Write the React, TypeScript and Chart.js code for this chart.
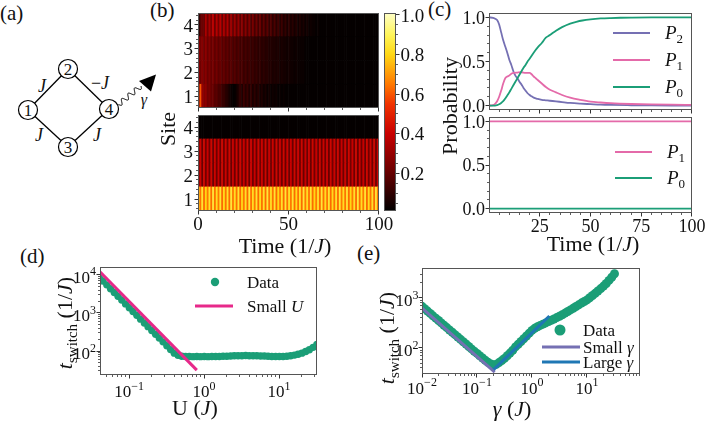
import React, { useEffect, useRef } from 'react';
import { Chart, registerables } from 'chart.js';

Chart.register(...registerables);

const W = 706;
const H = 422;
const SERIF = '"Liberation Serif", "DejaVu Serif", serif';
const FRAME = '#555555';
const INK = '#111111';
const GREEN = '#1b9e77';
const PURPLE = '#7570b3';
const PINK = '#e7298a';
const PINK_C = '#e46aa9';
const BLUE = '#1f77b4';

// ---------------- (b) heatmaps: site densities vs time ----------------
const HEAT_T = [
  0.5, 1.5, 2.5, 3.5, 4.5, 5.5, 6.5, 7.5, 8.5, 9.5,
  10.5, 11.5, 12.5, 13.5, 14.5, 15.5, 16.5, 17.5, 18.5, 19.5,
  20.5, 21.5, 22.5, 23.5, 24.5, 25.5, 26.5, 27.5, 28.5, 29.5,
  30.5, 31.5, 32.5, 33.5, 34.5, 35.5, 36.5, 37.5, 38.5, 39.5,
  40.5, 41.5, 42.5, 43.5, 44.5, 45.5, 46.5, 47.5, 48.5, 49.5,
  50.5, 51.5, 52.5, 53.5, 54.5, 55.5, 56.5, 57.5, 58.5, 59.5,
  60.5, 61.5, 62.5, 63.5, 64.5, 65.5, 66.5, 67.5, 68.5, 69.5,
  70.5, 71.5, 72.5, 73.5, 74.5, 75.5, 76.5, 77.5, 78.5, 79.5,
  80.5, 81.5, 82.5, 83.5, 84.5, 85.5, 86.5, 87.5, 88.5, 89.5,
  90.5, 91.5, 92.5, 93.5, 94.5, 95.5, 96.5, 97.5, 98.5, 99.5,
];

const TOP_SITE1 = [
  0.24, 0.6, 0.3, 0.26, 0.28, 0.22, 0.24, 0.2, 0.21, 0.17,
  0.18, 0.14, 0.15, 0.11, 0.11, 0.08, 0.07, 0.04, 0.02, 0.01,
  0.01, 0.03, 0.06, 0.1, 0.06, 0.12, 0.07, 0.11, 0.06, 0.1,
  0.05, 0.09, 0.05, 0.08, 0.04, 0.06, 0.03, 0.05, 0.02, 0.04,
  0.02, 0.03, 0.02, 0.03, 0.01, 0.02, 0.01, 0.02, 0.01, 0.01,
  0.01, 0.01, 0.01, 0.01, 0.01, 0.01, 0.01, 0.01, 0.01, 0.01,
  0.01, 0.01, 0.01, 0.01, 0.01, 0.01, 0.01, 0.01, 0.01, 0.01,
  0.01, 0.01, 0.01, 0.01, 0.01, 0.01, 0.01, 0.01, 0.01, 0.01,
  0.01, 0.01, 0.01, 0.01, 0.01, 0.01, 0.01, 0.01, 0.01, 0.01,
  0.01, 0.01, 0.01, 0.01, 0.01, 0.01, 0.01, 0.01, 0.01, 0.01,
];
const TOP_SITE2 = [
  0.3, 0.22, 0.27, 0.23, 0.27, 0.21, 0.25, 0.2, 0.24, 0.19,
  0.23, 0.18, 0.21, 0.17, 0.2, 0.16, 0.19, 0.15, 0.18, 0.14,
  0.17, 0.13, 0.16, 0.12, 0.15, 0.11, 0.14, 0.1, 0.13, 0.1,
  0.12, 0.09, 0.11, 0.08, 0.1, 0.07, 0.09, 0.07, 0.08, 0.06,
  0.07, 0.05, 0.06, 0.05, 0.06, 0.04, 0.05, 0.04, 0.04, 0.03,
  0.04, 0.03, 0.03, 0.02, 0.03, 0.02, 0.02, 0.02, 0.02, 0.01,
  0.01, 0.01, 0.01, 0.01, 0.01, 0.01, 0.01, 0.01, 0.01, 0.01,
  0.01, 0.01, 0.01, 0.01, 0.01, 0.01, 0.01, 0.01, 0.01, 0.01,
  0.01, 0.01, 0.01, 0.01, 0.01, 0.01, 0.01, 0.01, 0.01, 0.01,
  0.01, 0.01, 0.01, 0.01, 0.01, 0.01, 0.01, 0.01, 0.01, 0.01,
];
const TOP_SITE3 = [
  0.3, 0.23, 0.27, 0.22, 0.28, 0.21, 0.26, 0.2, 0.24, 0.19,
  0.23, 0.18, 0.22, 0.17, 0.2, 0.16, 0.19, 0.15, 0.18, 0.14,
  0.17, 0.13, 0.16, 0.12, 0.15, 0.11, 0.14, 0.11, 0.13, 0.1,
  0.12, 0.09, 0.11, 0.08, 0.1, 0.08, 0.09, 0.07, 0.08, 0.06,
  0.07, 0.06, 0.06, 0.05, 0.06, 0.04, 0.05, 0.04, 0.04, 0.03,
  0.04, 0.03, 0.03, 0.02, 0.03, 0.02, 0.02, 0.02, 0.02, 0.01,
  0.01, 0.01, 0.01, 0.01, 0.01, 0.01, 0.01, 0.01, 0.01, 0.01,
  0.01, 0.01, 0.01, 0.01, 0.01, 0.01, 0.01, 0.01, 0.01, 0.01,
  0.01, 0.01, 0.01, 0.01, 0.01, 0.01, 0.01, 0.01, 0.01, 0.01,
  0.01, 0.01, 0.01, 0.01, 0.01, 0.01, 0.01, 0.01, 0.01, 0.01,
];
const TOP_SITE4 = [
  0.02, 0.18, 0.22, 0.2, 0.34, 0.22, 0.33, 0.24, 0.38, 0.22,
  0.36, 0.23, 0.37, 0.21, 0.34, 0.22, 0.35, 0.2, 0.32, 0.2,
  0.31, 0.19, 0.3, 0.18, 0.28, 0.17, 0.27, 0.16, 0.26, 0.15,
  0.24, 0.14, 0.22, 0.13, 0.21, 0.12, 0.19, 0.11, 0.18, 0.1,
  0.16, 0.09, 0.15, 0.08, 0.13, 0.07, 0.12, 0.06, 0.1, 0.05,
  0.09, 0.05, 0.08, 0.04, 0.07, 0.03, 0.06, 0.03, 0.05, 0.02,
  0.04, 0.02, 0.03, 0.02, 0.02, 0.01, 0.02, 0.01, 0.01, 0.01,
  0.01, 0.01, 0.01, 0.01, 0.01, 0.01, 0.01, 0.01, 0.01, 0.01,
  0.01, 0.01, 0.01, 0.01, 0.01, 0.01, 0.01, 0.01, 0.01, 0.01,
  0.01, 0.01, 0.01, 0.01, 0.01, 0.01, 0.01, 0.01, 0.01, 0.01,
];

const BOT_SITE1 = [
  0.82, 0.64, 0.84, 0.63, 0.8, 0.65, 0.83, 0.63, 0.85, 0.64,
  0.82, 0.65, 0.84, 0.63, 0.81, 0.64, 0.83, 0.63, 0.85, 0.65,
  0.82, 0.64, 0.84, 0.63, 0.8, 0.65, 0.83, 0.63, 0.85, 0.64,
  0.82, 0.65, 0.84, 0.63, 0.81, 0.64, 0.83, 0.63, 0.85, 0.65,
  0.82, 0.64, 0.84, 0.63, 0.8, 0.65, 0.83, 0.63, 0.85, 0.64,
  0.82, 0.65, 0.84, 0.63, 0.81, 0.64, 0.83, 0.63, 0.85, 0.65,
  0.82, 0.64, 0.84, 0.63, 0.8, 0.65, 0.83, 0.63, 0.85, 0.64,
  0.82, 0.65, 0.84, 0.63, 0.81, 0.64, 0.83, 0.63, 0.85, 0.65,
  0.82, 0.64, 0.84, 0.63, 0.8, 0.65, 0.83, 0.63, 0.85, 0.64,
  0.82, 0.65, 0.84, 0.63, 0.81, 0.64, 0.83, 0.63, 0.85, 0.65,
];
const BOT_SITE23 = [
  0.22, 0.41, 0.21, 0.42, 0.23, 0.4, 0.22, 0.42, 0.21, 0.41,
  0.22, 0.4, 0.21, 0.42, 0.23, 0.41, 0.22, 0.42, 0.21, 0.4,
  0.22, 0.41, 0.21, 0.42, 0.23, 0.4, 0.22, 0.42, 0.21, 0.41,
  0.22, 0.4, 0.21, 0.42, 0.23, 0.41, 0.22, 0.42, 0.21, 0.4,
  0.22, 0.41, 0.21, 0.42, 0.23, 0.4, 0.22, 0.42, 0.21, 0.41,
  0.22, 0.4, 0.21, 0.42, 0.23, 0.41, 0.22, 0.42, 0.21, 0.4,
  0.22, 0.41, 0.21, 0.42, 0.23, 0.4, 0.22, 0.42, 0.21, 0.41,
  0.22, 0.4, 0.21, 0.42, 0.23, 0.41, 0.22, 0.42, 0.21, 0.4,
  0.22, 0.41, 0.21, 0.42, 0.23, 0.4, 0.22, 0.42, 0.21, 0.41,
  0.22, 0.4, 0.21, 0.42, 0.23, 0.41, 0.22, 0.42, 0.21, 0.4,
];
const BOT_SITE4 = [
  0.01, 0.01, 0.01, 0.01, 0.01, 0.01, 0.01, 0.01, 0.01, 0.01,
  0.01, 0.01, 0.01, 0.01, 0.01, 0.01, 0.01, 0.01, 0.01, 0.01,
  0.01, 0.01, 0.01, 0.01, 0.01, 0.01, 0.01, 0.01, 0.01, 0.01,
  0.01, 0.01, 0.01, 0.01, 0.01, 0.01, 0.01, 0.01, 0.01, 0.01,
  0.01, 0.01, 0.01, 0.01, 0.01, 0.01, 0.01, 0.01, 0.01, 0.01,
  0.01, 0.01, 0.01, 0.01, 0.01, 0.01, 0.01, 0.01, 0.01, 0.01,
  0.01, 0.01, 0.01, 0.01, 0.01, 0.01, 0.01, 0.01, 0.01, 0.01,
  0.01, 0.01, 0.01, 0.01, 0.01, 0.01, 0.01, 0.01, 0.01, 0.01,
  0.01, 0.01, 0.01, 0.01, 0.01, 0.01, 0.01, 0.01, 0.01, 0.01,
  0.01, 0.01, 0.01, 0.01, 0.01, 0.01, 0.01, 0.01, 0.01, 0.01,
];

const B_X_TICKS = [0, 50, 100];
const B_X_LABELS = ['0', '50', '100'];
const SITE_TICKS = [1, 2, 3, 4];
const SITE_LABELS = ['1', '2', '3', '4'];
const CB_RANGE = [0.01, 1.01];
const CB_TICKS = [0.2, 0.4, 0.6, 0.8, 1.0];
const CB_LABELS = ['0.2', '0.4', '0.6', '0.8', '1.0'];

// colour map stops: value, r, g, b
const CMAP = [
  [0.0, 0, 0, 0],
  [0.2, 100, 0, 0],
  [0.4, 200, 0, 0],
  [0.55, 240, 50, 0],
  [0.65, 255, 120, 0],
  [0.8, 255, 215, 20],
  [0.9, 255, 245, 90],
  [1.01, 255, 255, 200],
];

// ---------------- (c) probabilities ----------------
const P2_T = [0, 2, 4, 5, 6, 7, 8, 9, 10, 11, 12, 13, 14, 15, 16, 17, 18, 19, 20, 21, 22, 24, 26, 28, 30, 33, 36, 40, 45, 50, 55, 60, 70, 80, 90, 100];
const P2_V = [1.0, 0.995, 0.97, 0.92, 0.83, 0.74, 0.67, 0.6, 0.52, 0.46, 0.39, 0.34, 0.31, 0.27, 0.24, 0.2, 0.17, 0.14, 0.12, 0.105, 0.09, 0.075, 0.065, 0.06, 0.055, 0.048, 0.04, 0.03, 0.022, 0.016, 0.01, 0.007, 0.004, 0.002, 0.001, 0.001];
const P1_T = [0, 2, 3, 4, 5, 6, 7, 8, 9, 10, 11, 12, 14, 16, 18, 20, 21, 22, 23, 24, 26, 28, 30, 33, 36, 40, 45, 50, 55, 60, 70, 80, 90, 100];
const P1_V = [0, 0.005, 0.02, 0.05, 0.1, 0.17, 0.25, 0.31, 0.33, 0.34, 0.36, 0.37, 0.375, 0.378, 0.37, 0.37, 0.355, 0.33, 0.31, 0.29, 0.25, 0.21, 0.18, 0.15, 0.12, 0.09, 0.065, 0.045, 0.035, 0.027, 0.018, 0.013, 0.01, 0.008];
const P0_T = [0, 3, 4, 5, 6, 7, 8, 9, 10, 11, 12, 13, 14, 15, 16, 17, 18, 19, 20, 22, 24, 26, 28, 30, 33, 36, 40, 43, 46, 50, 55, 60, 65, 70, 80, 90, 100];
const P0_V = [0, 0, 0.005, 0.015, 0.03, 0.05, 0.08, 0.115, 0.15, 0.19, 0.23, 0.27, 0.31, 0.35, 0.39, 0.43, 0.46, 0.5, 0.53, 0.6, 0.66, 0.71, 0.77, 0.8, 0.85, 0.89, 0.93, 0.95, 0.965, 0.978, 0.988, 0.993, 0.996, 0.998, 1.0, 1.0, 1.0];
const C2_T = [0, 100];
const C2_P1 = [1, 1];
const C2_P0 = [0, 0];
const C_X_TICKS = [25, 50, 75, 100];
const C_X_LABELS = ['25', '50', '75', '100'];
const C_Y_TICKS = [0, 0.5, 1];
const C_Y_LABELS = ['0.0', '0.5', '1.0'];

// ---------------- (d) t_switch vs U ----------------
const D_U = [0.04, 0.045, 0.0505, 0.0567, 0.0636, 0.0713, 0.08, 0.0898, 0.1008, 0.113, 0.127, 0.1425, 0.16, 0.179, 0.201, 0.226, 0.253, 0.284, 0.319, 0.358, 0.401, 0.45, 0.505, 0.567, 0.636, 0.713, 0.8, 0.898, 1.008, 1.13, 1.27, 1.425, 1.6, 1.79, 2.01, 2.26, 2.53, 2.84, 3.19, 3.58, 4.01, 4.5, 5.05, 5.67, 6.36, 7.13, 8.0, 8.98, 10.08, 11.3, 12.7, 14.25, 16.0, 17.9, 20.1, 22.6, 25.3, 28.4, 31.9];
const D_T = [8750, 6914, 5490, 4355, 3461, 2754, 2188, 1736, 1378, 1096, 868, 689, 547, 437, 347, 274, 219, 174, 138, 109, 88, 77, 73, 72, 72, 71, 72, 71, 72, 71, 72, 72, 72, 73, 73, 74, 75, 75, 75, 76, 75, 75, 75, 74, 74, 73, 72, 72, 72, 72, 73, 75, 78, 82, 88, 97, 108, 125, 148];
const D_SMALL_U = [0.04, 0.8];
const D_SMALL_T = [12600, 31.5];
const D_X_TICKS = [0.1, 1, 10];
const D_X_LABELS = ['10^{−1}', '10^{0}', '10^{1}'];
const D_Y_TICKS = [100, 1000, 10000];
const D_Y_LABELS = ['10^{2}', '10^{3}', '10^{4}'];

// ---------------- (e) t_switch vs gamma ----------------
const E_G = [0.01, 0.0112, 0.0126, 0.0141, 0.0158, 0.0178, 0.02, 0.0224, 0.0251, 0.0282, 0.0316, 0.0355, 0.0398, 0.0447, 0.0501, 0.0562, 0.0631, 0.0708, 0.0794, 0.0891,
  0.1, 0.112, 0.126, 0.141, 0.158, 0.178, 0.2, 0.224, 0.251, 0.282, 0.316, 0.355, 0.398, 0.447, 0.501, 0.562, 0.631, 0.708, 0.794, 0.891,
  1.0, 1.12, 1.26, 1.41, 1.58, 1.78, 2.0, 2.24, 2.51, 2.82, 3.16, 3.55, 3.98, 4.47, 5.01, 5.62, 6.31, 7.08, 7.94, 8.91,
  10, 11.2, 12.6, 14.1, 15.8, 17.8, 20, 22.4, 25.1, 28.2, 31.6];
const E_T = [680, 610, 547, 491, 440, 395, 354, 318, 285, 256, 229, 206, 185, 166, 149, 133, 120, 107, 96, 86,
  78, 70, 63, 57, 52, 48, 46, 47, 51, 56, 62, 70, 79, 90, 105, 119, 135, 153, 174, 198,
  225, 247, 266, 283, 300, 318, 337, 357, 380, 405, 432, 462, 497, 536, 578, 625, 675, 730, 790, 850,
  915, 1010, 1120, 1240, 1380, 1540, 1730, 1950, 2250, 2600, 3050];
const E_SMALL_G = [0.01, 0.21];
const E_SMALL_T = [630, 33];
const E_LARGE_G = [0.2, 2.07];
const E_LARGE_T = [37, 437];
const E_X_TICKS = [0.01, 0.1, 1, 10];
const E_X_LABELS = ['10^{−2}', '10^{−1}', '10^{0}', '10^{1}'];
const E_Y_TICKS = [100, 1000];
const E_Y_LABELS = ['10^{2}', '10^{3}'];

// ---------------- layout ----------------
type Box = [number, number, number, number];
const BOX_B1: Box = [198, 13, 379, 108];
const BOX_B2: Box = [198, 115, 379, 211];
const BOX_CB: Box = [384, 13, 396, 211];
const BOX_C1: Box = [489, 13, 692, 110];
const BOX_C2: Box = [489, 117, 692, 213];
const BOX_D: Box = [100, 267, 317, 375];
const BOX_E: Box = [422, 268, 640, 374];

// ---------------- helpers ----------------
function cmap(v: number): string {
  if (v <= CMAP[0][0]) return `rgb(${CMAP[0][1]},${CMAP[0][2]},${CMAP[0][3]})`;
  for (let i = 1; i < CMAP.length; i++) {
    if (v <= CMAP[i][0]) {
      const a = CMAP[i - 1];
      const b = CMAP[i];
      const f = (v - a[0]) / (b[0] - a[0]);
      const c = [1, 2, 3].map((k) => Math.round(a[k] + (b[k] - a[k]) * f));
      return `rgb(${c[0]},${c[1]},${c[2]})`;
    }
  }
  const l = CMAP[CMAP.length - 1];
  return `rgb(${l[1]},${l[2]},${l[3]})`;
}

function steps(a: number, b: number, s: number): number[] {
  const out: number[] = [];
  for (let k = 0; a + k * s <= b + 1e-9; k++) out.push(+(a + k * s).toFixed(6));
  return out;
}

function logMinor(min: number, max: number): number[] {
  const out: number[] = [];
  for (let d = Math.floor(Math.log10(min)); d <= Math.ceil(Math.log10(max)); d++) {
    for (let m = 2; m <= 9; m++) {
      const v = m * Math.pow(10, d);
      if (v >= min && v <= max) out.push(v);
    }
  }
  return out;
}

type Part = { t: string; it: boolean; sub: boolean; sup: boolean };
function richParts(s: string): Part[] {
  const parts: Part[] = [];
  let it = false;
  let buf = '';
  let i = 0;
  const flush = () => {
    if (buf) parts.push({ t: buf, it, sub: false, sup: false });
    buf = '';
  };
  while (i < s.length) {
    const c = s[i];
    if (c === '$') {
      flush();
      it = !it;
      i++;
      continue;
    }
    if ((c === '_' || c === '^') && s[i + 1] === '{') {
      flush();
      const end = s.indexOf('}', i);
      parts.push({ t: s.slice(i + 2, end), it, sub: c === '_', sup: c === '^' });
      i = end + 1;
      continue;
    }
    buf += c;
    i++;
  }
  flush();
  return parts;
}

function drawRich(ctx: CanvasRenderingContext2D, s: string, x: number, y: number, size: number, align: string, color = INK) {
  const parts = richParts(s);
  const fonts = parts.map((p) => `${p.it ? 'italic ' : ''}${p.sub || p.sup ? Math.round(size * 0.7) : size}px ${SERIF}`);
  const ws = parts.map((p, k) => {
    ctx.font = fonts[k];
    return ctx.measureText(p.t).width;
  });
  const total = ws.reduce((a, b) => a + b, 0);
  let cx = align === 'left' ? x : align === 'center' ? x - total / 2 : x - total;
  ctx.fillStyle = color;
  ctx.textAlign = 'left';
  ctx.textBaseline = 'alphabetic';
  parts.forEach((p, k) => {
    ctx.font = fonts[k];
    const dy = p.sub ? size * 0.22 : p.sup ? -size * 0.42 : 0;
    ctx.fillText(p.t, cx, y + dy);
    cx += ws[k];
  });
}

interface AxisCfg { id: string; side: 'left' | 'right' | 'bottom'; major: number[]; labels?: string[]; minor?: number[]; size?: number; off?: number }
interface TextCfg { s: string; x: number; y: number; size: number; rot?: boolean }
interface LegCfg { kind: 'line' | 'dot'; color: string; x1: number; x2?: number; y: number; lw?: number; r?: number; s: string; tx: number; size: number }
interface DecoCfg { axes: AxisCfg[]; texts?: TextCfg[]; legend?: LegCfg[] }

function makeDeco(cfg: DecoCfg) {
  return {
    id: 'deco',
    afterDraw(chart: any) {
      const ctx: CanvasRenderingContext2D = chart.ctx;
      const a = chart.chartArea;
      ctx.save();
      ctx.strokeStyle = FRAME;
      ctx.lineWidth = 1;
      const l = Math.round(a.left), t = Math.round(a.top), r = Math.round(a.right), b = Math.round(a.bottom);
      ctx.strokeRect(l + 0.5, t + 0.5, r - l - 1, b - t - 1);
      for (const ax of cfg.axes) {
        const sc = chart.scales[ax.id];
        const horiz = ax.side === 'bottom';
        const lo = horiz ? l : t;
        const hi = horiz ? r : b;
        const mark = (v: number, len: number) => {
          const p = sc.getPixelForValue(v);
          if (p < lo - 0.6 || p > hi + 0.6) return null;
          const q = Math.min(Math.max(Math.round(p - 0.5) + 0.5, lo + 0.5), hi - 0.5);
          ctx.beginPath();
          if (ax.side === 'bottom') {
            ctx.moveTo(q, b);
            ctx.lineTo(q, b + len);
          } else if (ax.side === 'left') {
            ctx.moveTo(l, q);
            ctx.lineTo(l - len, q);
          } else {
            ctx.moveTo(r, q);
            ctx.lineTo(r + len, q);
          }
          ctx.stroke();
          return p;
        };
        ctx.strokeStyle = '#333333';
        ctx.lineWidth = 0.8;
        (ax.minor || []).forEach((v) => mark(v, 2));
        ctx.lineWidth = 1;
        ax.major.forEach((v, k) => {
          const p = mark(v, 3.5);
          if (p === null || !ax.labels) return;
          const size = ax.size || 17;
          const off = ax.off || 4;
          const s = ax.labels[k];
          const hasSup = s.indexOf('^') >= 0;
          if (ax.side === 'bottom') drawRich(ctx, s, p, b + off, size, 'center');
          else if (ax.side === 'left') drawRich(ctx, s, l - off, p + (hasSup ? 0.45 : 0.35) * size, size, 'right');
          else drawRich(ctx, s, r + off, p + 0.35 * size, size, 'left');
        });
      }
      for (const tx of cfg.texts || []) {
        if (tx.rot) {
          ctx.save();
          ctx.translate(tx.x + 0.33 * tx.size, tx.y);
          ctx.rotate(-Math.PI / 2);
          drawRich(ctx, tx.s, 0, 0, tx.size, 'center');
          ctx.restore();
        } else {
          drawRich(ctx, tx.s, tx.x, tx.y + 0.33 * tx.size, tx.size, 'center');
        }
      }
      for (const lg of cfg.legend || []) {
        if (lg.kind === 'line') {
          ctx.strokeStyle = lg.color;
          ctx.lineWidth = lg.lw || 2;
          ctx.beginPath();
          ctx.moveTo(lg.x1, lg.y);
          ctx.lineTo(lg.x2 || lg.x1, lg.y);
          ctx.stroke();
        } else {
          ctx.fillStyle = lg.color;
          ctx.beginPath();
          ctx.arc(lg.x1, lg.y, lg.r || 4, 0, Math.PI * 2);
          ctx.fill();
        }
        drawRich(ctx, lg.s, lg.tx, lg.y + 0.33 * lg.size, lg.size, 'left');
      }
      ctx.restore();
    },
  };
}

function baseOptions(box: Box, scales: any) {
  return {
    responsive: false,
    maintainAspectRatio: false,
    animation: false,
    events: [],
    devicePixelRatio: 1,
    layout: { padding: { left: box[0], top: box[1], right: W - box[2], bottom: H - box[3] } },
    plugins: { legend: { display: false }, tooltip: { enabled: false }, title: { display: false } },
    scales,
  };
}

function heatConfig(rows: number[][], box: Box, deco: DecoCfg) {
  return {
    type: 'bar',
    data: {
      datasets: rows.map((vals, i) => ({
        data: HEAT_T.map((t) => ({ x: t, y: [i + 0.5, i + 1.5] })),
        backgroundColor: vals.map(cmap),
        borderWidth: 0,
        barPercentage: 1,
        categoryPercentage: 1,
        grouped: false,
      })),
    },
    options: baseOptions(box, {
      x: { type: 'linear', min: 0, max: 100, display: false, offset: false },
      y: { type: 'linear', min: 0.5, max: 4.5, display: false },
    }),
    plugins: [makeDeco(deco)],
  };
}

const pts = (xs: number[], ys: number[]) => xs.map((x, i) => ({ x, y: ys[i] }));

function configs(): any[] {
  const bYMinor = steps(0.6, 4.4, 0.2);
  const bXMinor = steps(10, 90, 10);
  const b1 = heatConfig([TOP_SITE1, TOP_SITE2, TOP_SITE3, TOP_SITE4], BOX_B1, {
    axes: [
      { id: 'x', side: 'bottom', major: B_X_TICKS, minor: bXMinor },
      { id: 'y', side: 'left', major: SITE_TICKS, labels: SITE_LABELS, minor: bYMinor, size: 19, off: 5 },
    ],
  });
  const b2 = heatConfig([BOT_SITE1, BOT_SITE23, BOT_SITE23, BOT_SITE4], BOX_B2, {
    axes: [
      { id: 'x', side: 'bottom', major: B_X_TICKS, labels: B_X_LABELS, minor: bXMinor, size: 19, off: 18.5 },
      { id: 'y', side: 'left', major: SITE_TICKS, labels: SITE_LABELS, minor: bYMinor, size: 19, off: 5 },
    ],
    texts: [
      { s: 'Site', x: 168, y: 129, size: 22, rot: true },
      { s: 'Time (1/$J$)', x: 285, y: 246, size: 22 },
    ],
  });
  const cb = {
    type: 'bar',
    data: {
      labels: ['cb'],
      datasets: [{
        data: [[CB_RANGE[0], CB_RANGE[1]]],
        backgroundColor: (c: any) => {
          const ch = c.chart;
          const ys = ch.scales && ch.scales.y;
          if (!ys || !ch.chartArea) return '#000';
          const y0 = ys.getPixelForValue(CB_RANGE[0]);
          const y1 = ys.getPixelForValue(CB_RANGE[1]);
          const g = ch.ctx.createLinearGradient(0, y0, 0, y1);
          CMAP.forEach((s) => {
            const f = Math.min(1, Math.max(0, (s[0] - CB_RANGE[0]) / (CB_RANGE[1] - CB_RANGE[0])));
            g.addColorStop(f, `rgb(${s[1]},${s[2]},${s[3]})`);
          });
          return g;
        },
        borderWidth: 0,
        barPercentage: 1,
        categoryPercentage: 1,
      }],
    },
    options: baseOptions(BOX_CB, {
      x: { type: 'category', display: false, offset: true },
      y: { type: 'linear', min: CB_RANGE[0], max: CB_RANGE[1], display: false },
    }),
    plugins: [makeDeco({
      axes: [{ id: 'y', side: 'right', major: CB_TICKS, labels: CB_LABELS, minor: steps(0.05, 1.0, 0.05), size: 19, off: 4.5 }],
    })],
  };

  const cXMinor = steps(5, 95, 5);
  const cYMinor = steps(0.1, 0.9, 0.1);
  const lineDs = (xs: number[], ys: number[], color: string) => ({
    data: pts(xs, ys),
    borderColor: color,
    backgroundColor: color,
    borderWidth: 1.8,
    pointRadius: 0,
    cubicInterpolationMode: 'monotone',
  });
  const cScales = {
    x: { type: 'linear', min: 0, max: 100, display: false },
    y: { type: 'linear', min: -0.05, max: 1.05, display: false },
  };
  const c1 = {
    type: 'line',
    data: { datasets: [lineDs(P0_T, P0_V, GREEN), lineDs(P1_T, P1_V, PINK_C), lineDs(P2_T, P2_V, PURPLE)] },
    options: baseOptions(BOX_C1, cScales),
    plugins: [makeDeco({
      axes: [
        { id: 'x', side: 'bottom', major: C_X_TICKS, minor: cXMinor },
        { id: 'y', side: 'left', major: C_Y_TICKS, labels: C_Y_LABELS, minor: cYMinor, size: 18, off: 4 },
      ],
      legend: [
        { kind: 'line', color: PURPLE, x1: 613, x2: 650, y: 33, lw: 2, s: '$P$_{2}', tx: 665, size: 19 },
        { kind: 'line', color: PINK_C, x1: 613, x2: 650, y: 60, lw: 2, s: '$P$_{1}', tx: 665, size: 19 },
        { kind: 'line', color: GREEN, x1: 613, x2: 650, y: 87, lw: 2, s: '$P$_{0}', tx: 665, size: 19 },
      ],
    })],
  };
  const c2 = {
    type: 'line',
    data: { datasets: [lineDs(C2_T, C2_P0, GREEN), lineDs(C2_T, C2_P1, PINK_C)] },
    options: baseOptions(BOX_C2, cScales),
    plugins: [makeDeco({
      axes: [
        { id: 'x', side: 'bottom', major: C_X_TICKS, labels: C_X_LABELS, minor: cXMinor, size: 18, off: 19 },
        { id: 'y', side: 'left', major: C_Y_TICKS, labels: C_Y_LABELS, minor: cYMinor, size: 18, off: 4 },
      ],
      texts: [
        { s: 'Probability', x: 450, y: 106, size: 22, rot: true },
        { s: 'Time (1/$J$)', x: 593, y: 244, size: 22 },
      ],
      legend: [
        { kind: 'line', color: PINK_C, x1: 615, x2: 652, y: 152, lw: 2, s: '$P$_{1}', tx: 667, size: 19 },
        { kind: 'line', color: GREEN, x1: 615, x2: 652, y: 178, lw: 2, s: '$P$_{0}', tx: 667, size: 19 },
      ],
    })],
  };

  const dRange = { x: [0.041, 32], y: [23.4, 16200] };
  const d = {
    type: 'scatter',
    data: {
      datasets: [
        { data: pts(D_SMALL_U, D_SMALL_T), showLine: true, borderColor: PINK, backgroundColor: PINK, borderWidth: 3, pointRadius: 0 },
        { data: pts(D_U, D_T), showLine: false, pointRadius: 3.7, pointBorderWidth: 0, pointBackgroundColor: GREEN, backgroundColor: GREEN, borderColor: GREEN },
      ],
    },
    options: baseOptions(BOX_D, {
      x: { type: 'logarithmic', min: dRange.x[0], max: dRange.x[1], display: false },
      y: { type: 'logarithmic', min: dRange.y[0], max: dRange.y[1], display: false },
    }),
    plugins: [makeDeco({
      axes: [
        { id: 'x', side: 'bottom', major: D_X_TICKS, labels: D_X_LABELS, minor: logMinor(dRange.x[0], dRange.x[1]), size: 17, off: 22 },
        { id: 'y', side: 'left', major: D_Y_TICKS, labels: D_Y_LABELS, minor: logMinor(dRange.y[0], dRange.y[1]), size: 17, off: 4 },
      ],
      texts: [
        { s: '$t$_{switch} (1/$J$)', x: 65, y: 323, size: 22, rot: true },
        { s: 'U ($J$)', x: 195, y: 408, size: 22 },
      ],
      legend: [
        { kind: 'dot', color: GREEN, x1: 215, y: 282, r: 4.2, s: 'Data', tx: 247, size: 17 },
        { kind: 'line', color: PINK, x1: 195, x2: 233, y: 306, lw: 3, s: 'Small $U$', tx: 247, size: 17 },
      ],
    })],
  };

  const eRange = { x: [0.01, 92], y: [30.2, 3980] };
  const e = {
    type: 'scatter',
    data: {
      datasets: [
        { data: pts(E_LARGE_G, E_LARGE_T), showLine: true, borderColor: BLUE, backgroundColor: BLUE, borderWidth: 3, pointRadius: 0 },
        { data: pts(E_SMALL_G, E_SMALL_T), showLine: true, borderColor: PURPLE, backgroundColor: PURPLE, borderWidth: 3, pointRadius: 0 },
        { data: pts(E_G, E_T), showLine: false, pointRadius: 4.5, pointBorderWidth: 0, pointBackgroundColor: GREEN, backgroundColor: GREEN, borderColor: GREEN },
      ],
    },
    options: baseOptions(BOX_E, {
      x: { type: 'logarithmic', min: eRange.x[0], max: eRange.x[1], display: false },
      y: { type: 'logarithmic', min: eRange.y[0], max: eRange.y[1], display: false },
    }),
    plugins: [makeDeco({
      axes: [
        { id: 'x', side: 'bottom', major: E_X_TICKS, labels: E_X_LABELS, minor: logMinor(eRange.x[0], eRange.x[1]), size: 17, off: 19.5 },
        { id: 'y', side: 'left', major: E_Y_TICKS, labels: E_Y_LABELS, minor: logMinor(eRange.y[0], eRange.y[1]), size: 17, off: 3.5 },
      ],
      texts: [
        { s: '$t$_{switch} (1/$J$)', x: 387, y: 338, size: 22, rot: true },
        { s: '$γ$ ($J$)', x: 512, y: 409, size: 22 },
      ],
      legend: [
        { kind: 'dot', color: GREEN, x1: 560, y: 330, r: 5.5, s: 'Data', tx: 583, size: 17 },
        { kind: 'line', color: PURPLE, x1: 542, x2: 580, y: 347, lw: 3, s: 'Small $γ$', tx: 583, size: 17 },
        { kind: 'line', color: BLUE, x1: 542, x2: 580, y: 362, lw: 3, s: 'Large $γ$', tx: 583, size: 17 },
      ],
    })],
  };

  return [b1, b2, cb, c1, c2, d, e];
}

function ChartLayer({ config }: { config: any }) {
  const ref = useRef<HTMLCanvasElement | null>(null);
  useEffect(() => {
    if (!ref.current) return;
    const chart = new Chart(ref.current, config);
    return () => chart.destroy();
  }, [config]);
  return (
    <canvas
      ref={ref}
      width={W}
      height={H}
      style={{ position: 'absolute', left: 0, top: 0, width: W, height: H }}
    />
  );
}

function Diagram() {
  const nodes = [
    { id: '1', x: 28, y: 110 },
    { id: '2', x: 68, y: 69 },
    { id: '3', x: 68, y: 147 },
    { id: '4', x: 109, y: 109 },
  ];
  const edges = [[0, 1], [1, 3], [0, 2], [2, 3]];
  const x0 = 118.5, y0 = 104.5, x1 = 141, y1 = 86;
  const dx = x1 - x0, dy = y1 - y0;
  const L = Math.hypot(dx, dy);
  const nx = -dy / L, ny = dx / L;
  let wave = '';
  for (let i = 0; i <= 80; i++) {
    const s = i / 80;
    const off = 2.6 * Math.sin(s * Math.PI * 2 * 3.5);
    wave += (i ? 'L' : 'M') + (x0 + dx * s + nx * off).toFixed(2) + ' ' + (y0 + dy * s + ny * off).toFixed(2);
  }
  const lab = { fontFamily: SERIF, fill: INK } as any;
  return (
    <svg width={W} height={H} style={{ position: 'absolute', left: 0, top: 0 }}>
      {edges.map(([a, b], k) => (
        <line key={k} x1={nodes[a].x} y1={nodes[a].y} x2={nodes[b].x} y2={nodes[b].y} stroke="#000" strokeWidth={1.3} />
      ))}
      {nodes.map((n) => (
        <g key={n.id}>
          <circle cx={n.x} cy={n.y} r={9.5} fill="#fff" stroke="#000" strokeWidth={1.2} />
          <text x={n.x} y={n.y + 5.5} textAnchor="middle" fontSize={17} {...lab}>{n.id}</text>
        </g>
      ))}
      <text x={42} y={92} textAnchor="middle" fontSize={18} fontStyle="italic" {...lab}>J</text>
      <text x={100} y={89} textAnchor="middle" fontSize={18} {...lab}>−<tspan fontStyle="italic">J</tspan></text>
      <text x={39} y={141} textAnchor="middle" fontSize={18} fontStyle="italic" {...lab}>J</text>
      <text x={97} y={141} textAnchor="middle" fontSize={18} fontStyle="italic" {...lab}>J</text>
      <path d={wave} fill="none" stroke="#000" strokeWidth={1} />
      <polygon points="139,81 156,74.5 151,91.5" fill="#000" />
      <text x={144} y={105} textAnchor="middle" fontSize={16} fontStyle="italic" {...lab}>γ</text>
      <text x={0} y={20} fontSize={21} {...lab}>(a)</text>
      <text x={150} y={17} fontSize={21} {...lab}>(b)</text>
      <text x={428} y={16} fontSize={21} {...lab}>(c)</text>
      <text x={20} y={263} fontSize={21} {...lab}>(d)</text>
      <text x={357} y={260} fontSize={21} {...lab}>(e)</text>
    </svg>
  );
}

const CONFIGS = configs();

export default function App() {
  return (
    <div style={{ position: 'fixed', left: 0, top: 0, width: W, height: H, background: '#fff', overflow: 'hidden' }}>
      <Diagram />
      {CONFIGS.map((c, i) => (
        <ChartLayer key={i} config={c} />
      ))}
    </div>
  );
}
